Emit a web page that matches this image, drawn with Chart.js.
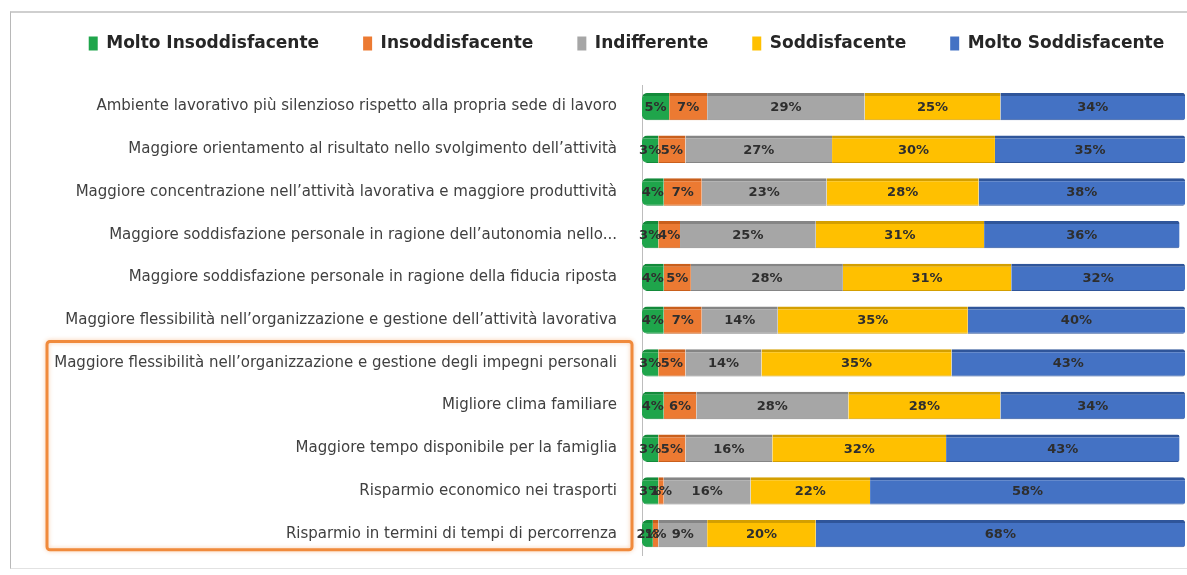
<!DOCTYPE html>
<html><head><meta charset="utf-8">
<script src="https://cdn.jsdelivr.net/npm/chart.js@4.4.1/dist/chart.umd.min.js"></script>
<style>
html,body{margin:0;padding:0;background:#fff;}
#wrap{position:relative;width:1187px;height:575px;overflow:hidden;background:#fff;}
#frame{position:absolute;left:10px;top:11px;width:1190px;height:555px;border-top:2px solid #cfcfcf;border-left:1px solid #b8b8b8;border-bottom:1px solid #e2e2e2;}
canvas{position:absolute;left:0;top:0;}
</style></head><body>
<div id="wrap"><div id="frame"></div><canvas id="c" width="1187" height="575"></canvas></div>
<script>
const categories = [
  "Ambiente lavorativo più silenzioso rispetto alla propria sede di lavoro",
  "Maggiore orientamento al risultato nello svolgimento dell’attività",
  "Maggiore concentrazione nell’attività lavorativa e maggiore produttività",
  "Maggiore soddisfazione personale in ragione dell’autonomia nello...",
  "Maggiore soddisfazione personale in ragione della fiducia riposta",
  "Maggiore flessibilità nell’organizzazione e gestione dell’attività lavorativa",
  "Maggiore flessibilità nell’organizzazione e gestione degli impegni personali",
  "Migliore clima familiare",
  "Maggiore tempo disponibile per la famiglia",
  "Risparmio economico nei trasporti",
  "Risparmio in termini di tempi di percorrenza"
];
const seriesNames = ["Molto Insoddisfacente","Insoddisfacente","Indifferente","Soddisfacente","Molto Soddisfacente"];
const moltoInsoddisfacente = [5,3,4,3,4,4,3,4,3,3,2];
const insoddisfacente      = [7,5,7,4,5,7,5,6,5,1,1];
const indifferente         = [29,27,23,25,28,14,14,28,16,16,9];
const soddisfacente        = [25,30,28,31,31,35,35,28,32,22,20];
const moltoSoddisfacente   = [34,35,38,36,32,40,43,34,43,58,68];
const highlightedFrom = 6, highlightedTo = 10;

const fills = ["#1fa54b","#ec7a32","#a6a6a6","#ffc000","#4472c4"];
const tops  = ["#138a3a","#c95f1c","#858585","#d49f00","#2f559a"];
const values = [moltoInsoddisfacente, insoddisfacente, indifferente, soddisfacente, moltoSoddisfacente];

const datasets = values.map((v,i)=>({
  label: seriesNames[i],
  data: v,
  backgroundColor: fills[i],
  borderColor: tops[i],
  borderWidth: {top:3, right:0, bottom:1, left:0},
  borderSkipped: false,
  borderRadius: i === 0 ? {topLeft:5, bottomLeft:5} : (i === 4 ? {topRight:2, bottomRight:2} : 0),
  barPercentage: 0.8,
  categoryPercentage: 0.8
}));

const FONT = '"DejaVu Sans", sans-serif';

const labelPlugin = {
  id: 'segLabels',
  afterDatasetsDraw(chart){
    const ctx = chart.ctx;
    ctx.save();
    ctx.font = 'bold 13px ' + FONT;
    ctx.textAlign = 'center';
    ctx.textBaseline = 'middle';
    ctx.fillStyle = '#2e2e2e';
    chart.data.datasets.forEach((ds,di)=>{
      const meta = chart.getDatasetMeta(di);
      meta.data.forEach((el,i)=>{
        const cx = (el.x + el.base)/2;
        ctx.fillText(ds.data[i] + '%', cx, el.y + 1);
      });
    });
    ctx.restore();
  }
};

const boxPlugin = {
  id: 'highlightBox',
  afterDraw(chart){
    const y = chart.scales.y, ca = chart.chartArea;
    const step = y.getPixelForValue(1) - y.getPixelForValue(0);
    const top = y.getPixelForValue(highlightedFrom) - step/2;
    const bottom = y.getPixelForValue(highlightedTo) + step*0.38;
    const left = 47, right = ca.left - 10;
    const ctx = chart.ctx;
    ctx.save();
    ctx.strokeStyle = '#f08a3c';
    ctx.lineWidth = 3;
    ctx.shadowColor = 'rgba(240,138,60,0.45)';
    ctx.shadowBlur = 4;
    ctx.beginPath();
    ctx.roundRect(left, top, right-left, bottom-top, 3);
    ctx.stroke();
    ctx.restore();
  }
};

// shift the (full-width) legend row slightly right, as in the original
const legendShift = {
  id: 'legendShift',
  afterLayout(chart){
    const lg = chart.legend;
    if (lg) { lg.left += 34; lg.right += 34; }
  }
};

new Chart(document.getElementById('c'), {
  type: 'bar',
  data: { labels: categories, datasets },
  options: {
    indexAxis: 'y',
    responsive: false,
    animation: false,
    layout: { padding: { top: -9, right: 2, bottom: 20, left: 0 } },
    plugins: {
      legend: {
        position: 'top',
        labels: {
          boxWidth: 9, boxHeight: 14, padding: 44,
          color: '#262626',
          font: { family: FONT, size: 17, weight: 'bold' },
          generateLabels(chart){
            const items = Chart.defaults.plugins.legend.labels.generateLabels(chart);
            items.forEach(it=>{ it.lineWidth = 0; it.strokeStyle = 'transparent'; });
            return items;
          }
        }
      },
      subtitle: { display: true, text: '', weight: 500, position: 'top', font: { size: 1 }, padding: { top: 22, bottom: 0 } },
      tooltip: { enabled: false }
    },
    scales: {
      x: { stacked: true, min: 0, max: 100, display: false },
      y: {
        stacked: true,
        grid: { display: false },
        border: { display: true, color: '#bdbdbd', width: 1 },
        ticks: { color: '#404040', padding: 17, font: { family: FONT, size: 15 } },
        afterFit(scale){ scale.width = 642; scale.paddingTop = 0; scale.paddingBottom = 0; }
      }
    }
  },
  plugins: [labelPlugin, boxPlugin, legendShift]
});
</script>
</body></html>
